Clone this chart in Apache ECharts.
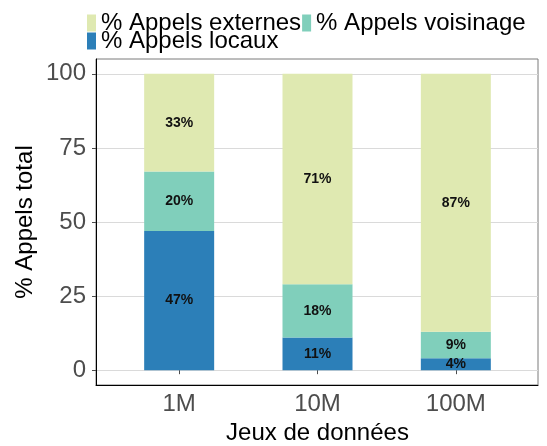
<!DOCTYPE html>
<html>
<head>
<meta charset="utf-8">
<script src="https://cdn.jsdelivr.net/npm/echarts@6/dist/echarts.min.js"></script>
<style>
  html,body{margin:0;padding:0;background:#fff;}
  #main{width:547px;height:446px;}
</style>
</head>
<body>
<div id="main"></div>
<script>
// ---- 数据 ----
const categories = ['1M', '10M', '100M'];
const locaux    = [47, 11, 4];
const voisinage = [20, 18, 9];
const externes  = [33, 71, 87];
const yTicks    = [0, 25, 50, 75, 100];

const C = { loc:'#2c7fb8', vois:'#80cfbb', ext:'#dfe9b1', tick:'#4d4d4d', grid:'#dadada' };
const FONT = '"Liberation Sans", Arial, sans-serif';
const Y_MIN = -5, Y_MAX = 105;

function bar(name, vals, color){
  return {
    name, type:'bar', stack:'total', barWidth:70, xAxisIndex:0, yAxisIndex:0,
    data: vals,
    itemStyle:{ color },
    label:{ show:true, position:'inside', color:'#111', fontFamily:FONT, fontWeight:'bold', fontSize:14,
      formatter:'{c}%' },
    emphasis:{ disabled:true }
  };
}

const chart = echarts.init(document.getElementById('main'));
chart.setOption({
  animation:false,
  textStyle:{ fontFamily:FONT },
  legend:[
    { data:['% Appels externes', '% Appels voisinage'], left:87, top:11, itemWidth:9, itemHeight:17, itemGap:1,
      icon:'rect', textStyle:{ fontSize:24, color:'#000', fontFamily:FONT }, selectedMode:false, padding:0 },
    { data:['% Appels locaux'], left:87, top:29, itemWidth:9, itemHeight:17,
      icon:'rect', textStyle:{ fontSize:24, color:'#000', fontFamily:FONT }, selectedMode:false, padding:0 }
  ],
  grid:[
    // 0: 柱子区域(类目带宽按 ggplot 展开)
    { left:110, right:22, top:59, bottom:61, outerBoundsMode:'none' },
    // 1: 面板边框 + y 轴
    { left:96, right:9, top:59, bottom:61, show:true, borderColor:'#7a7a7a', borderWidth:1, outerBoundsMode:'none' }
  ],
  xAxis:[
    { type:'category', gridIndex:0, data:categories,
      name:'Jeux de données', nameLocation:'middle', nameGap:36, nameMoveOverlap:false,
      nameTextStyle:{ fontSize:24, color:'#000', fontFamily:FONT },
      axisLine:{ show:false },
      axisTick:{ show:true, alignWithLabel:true, length:4, lineStyle:{ color:C.tick } },
      axisLabel:{ fontSize:24, color:C.tick, margin:7 },
      splitLine:{ show:false } },
    { type:'value', gridIndex:1, min:0, max:1,
      axisLine:{ show:true, onZero:false, lineStyle:{ color:'#000', width:1 } },
      axisTick:{ show:false }, axisLabel:{ show:false }, splitLine:{ show:false } }
  ],
  yAxis:[
    { type:'value', gridIndex:0, min:Y_MIN, max:Y_MAX,
      axisLine:{ show:false }, axisTick:{ show:false }, axisLabel:{ show:false }, splitLine:{ show:false } },
    { type:'value', gridIndex:1, min:Y_MIN, max:Y_MAX,
      name:'% Appels total', nameLocation:'middle', nameGap:59, nameMoveOverlap:false,
      nameTextStyle:{ fontSize:24, color:'#000', fontFamily:FONT },
      axisLine:{ show:true, onZero:false, lineStyle:{ color:'#000', width:1 } },
      axisTick:{ show:true, length:4, customValues:yTicks, lineStyle:{ color:C.tick } },
      axisLabel:{ customValues:yTicks, fontSize:24, color:C.tick, margin:10 },
      splitLine:{ show:true, lineStyle:{ color:C.grid, width:1 } } }
  ],
  series:[
    bar('% Appels locaux', locaux, C.loc),
    bar('% Appels voisinage', voisinage, C.vois),
    bar('% Appels externes', externes, C.ext)
  ]
});
</script>
</body>
</html>
